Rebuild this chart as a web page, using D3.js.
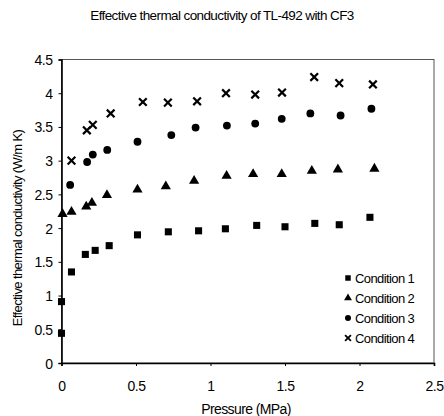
<!DOCTYPE html>
<html><head><meta charset="utf-8">
<script src="https://cdn.jsdelivr.net/npm/d3@7"></script>
<style>body{margin:0;background:#fff}text{font-family:"Liberation Sans",Arial,sans-serif;fill:#000}</style>
</head><body><svg id="c" width="444" height="416"></svg>
<script>
const title = "Effective thermal conductivity of TL-492 with  CF3";
const xLabel = "Pressure (MPa)";
const yLabel = "Effective thermal conductivity (W/m K)";
const seriesNames = ["Condition 1","Condition 2","Condition 3","Condition 4"];
const xTicks = [0,0.5,1,1.5,2,2.5];
const yTicks = [0,0.5,1,1.5,2,2.5,3,3.5,4,4.5];
const c1x = [0,0,0.067,0.16,0.226,0.32,0.51,0.717,0.92,1.1,1.31,1.5,1.7,1.864,2.07];
const c1y = [0.44,0.91,1.35,1.61,1.67,1.74,1.90,1.945,1.96,1.99,2.04,2.02,2.07,2.05,2.16];
const c2x = [0.007,0.067,0.166,0.204,0.305,0.51,0.70,0.89,1.108,1.286,1.478,1.68,1.855,2.10];
const c2y = [2.21,2.24,2.32,2.375,2.49,2.57,2.62,2.70,2.775,2.80,2.80,2.85,2.87,2.88];
const c3x = [0.058,0.172,0.21,0.307,0.51,0.737,0.90,1.11,1.30,1.478,1.67,1.873,2.08];
const c3y = [2.64,2.98,3.09,3.16,3.28,3.38,3.49,3.52,3.55,3.62,3.70,3.67,3.77];
const c4x = [0.067,0.17,0.21,0.33,0.546,0.714,0.91,1.104,1.30,1.48,1.696,1.864,2.09];
const c4y = [3.0,3.45,3.53,3.70,3.87,3.86,3.88,4.0,3.98,4.01,4.24,4.15,4.13];

const svg = d3.select("#c");
const L=61.5, R=434, T=59.5, B=363;
const x = d3.scaleLinear().domain([0,2.5]).range([L,R]);
const y = d3.scaleLinear().domain([0,4.5]).range([B,T]);

svg.append("text").attr("x",222).attr("y",20).attr("text-anchor","middle")
  .style("font-size","13.5px").style("letter-spacing","-0.6px").text(title);

svg.append("rect").attr("x",L).attr("y",T).attr("width",R-L).attr("height",B-T)
  .attr("fill","none").attr("stroke","#555").attr("stroke-width",1);

const xa = svg.append("g").attr("transform",`translate(0,${B})`)
  .call(d3.axisBottom(x).tickValues(xTicks).tickSize(3).tickFormat(d3.format("")));
const ya = svg.append("g").attr("transform",`translate(${L},0)`)
  .call(d3.axisLeft(y).tickValues(yTicks).tickSize(3).tickFormat(d3.format("")));
[xa,ya].forEach(a=>{a.select(".domain").attr("stroke","#000").attr("stroke-width",1.6);
  a.selectAll(".tick line").attr("stroke","#000");
  a.selectAll("text").style("font-size","14px").style("font-family","Liberation Sans, Arial").style("letter-spacing","-0.5px");});
xa.selectAll("text").attr("dy","0").attr("y",28);
ya.selectAll("text").attr("x",-9).attr("dy","0.36em");

svg.append("text").attr("x",246).attr("y",414).attr("text-anchor","middle")
  .style("font-size","14px").style("letter-spacing","-0.6px").text(xLabel);
svg.append("text").attr("transform","translate(22,228) rotate(-90)").attr("text-anchor","middle")
  .style("font-size","13px").style("letter-spacing","-0.6px").text(yLabel);

const symbols=[d3.symbolSquare,d3.symbolTriangle,d3.symbolCircle,d3.symbolX];
const sizes=[50,45,48,40];
const data=[[c1x,c1y],[c2x,c2y],[c3x,c3y],[c4x,c4y]];
data.forEach(([xs,ys],i)=>{
  const g=svg.append("g");
  xs.forEach((v,j)=>{
    const p=g.append("path").attr("transform",`translate(${x(v)},${y(ys[j])})`)
      .attr("d",d3.symbol().type(symbols[i]).size(sizes[i])());
    if(i===3) p.attr("fill","none").attr("stroke","#000").attr("stroke-width",2.2);
    else p.attr("fill","#000");
  });
});

const lg=svg.append("g");
seriesNames.forEach((n,i)=>{
  const yy=278+i*20;
  const p=lg.append("path").attr("transform",`translate(348,${yy})`)
    .attr("d",d3.symbol().type(symbols[i]).size(sizes[i]*0.6)());
  if(i===3) p.attr("fill","none").attr("stroke","#000").attr("stroke-width",1.8);
  else p.attr("fill","#000");
  lg.append("text").attr("x",355).attr("y",yy).attr("dy","0.36em")
    .style("font-size","13px").style("letter-spacing","-0.6px").text(n);
});
</script></body></html>
